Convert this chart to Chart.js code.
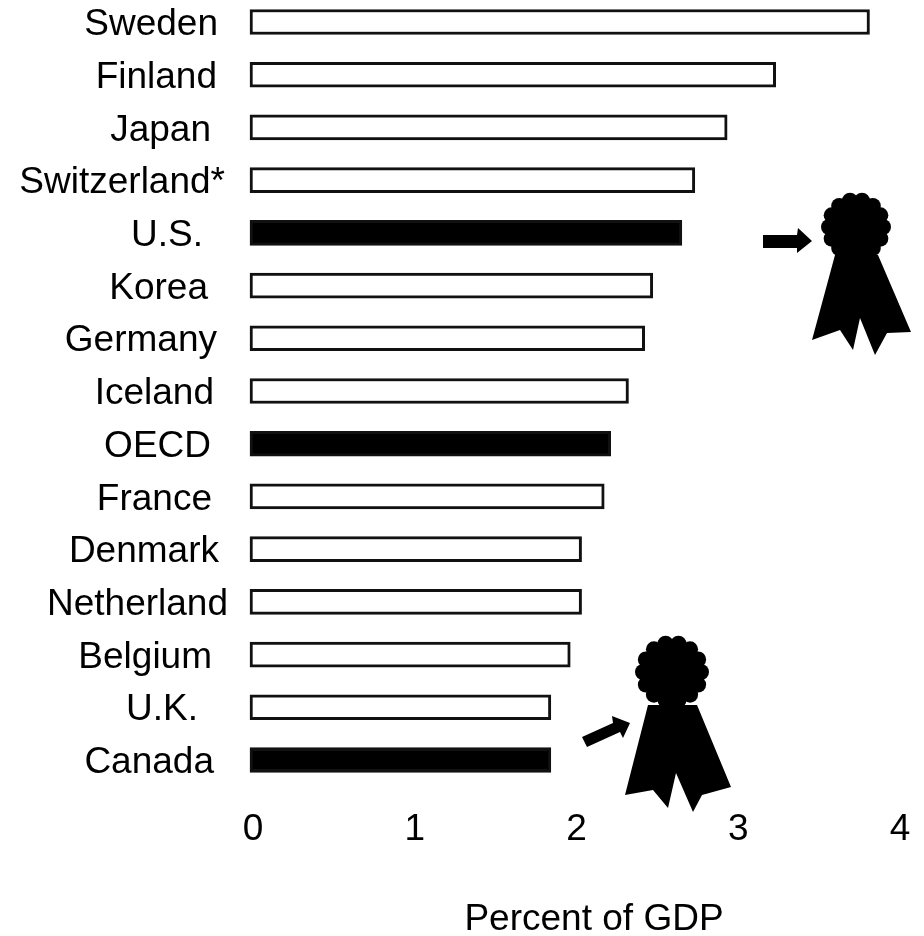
<!DOCTYPE html>
<html lang="en">
<head>
    <meta charset="UTF-8">
    <title>Percent of GDP</title>
    <script src="https://cdn.jsdelivr.net/npm/chart.js@4/dist/chart.umd.js"></script>
    <style>
        html, body { margin: 0; background: #fff; }
        canvas { display: block; }
    </style>
</head>
<body>
    <canvas id="gdpChart" width="924" height="936"></canvas>

    <script>
        const countries = ['Sweden', 'Finland', 'Japan', 'Switzerland*', 'U.S.', 'Korea', 'Germany', 'Iceland',
            'OECD', 'France', 'Denmark', 'Netherland', 'Belgium', 'U.K.', 'Canada'];
        const percentOfGdp = [3.83, 3.25, 2.95, 2.75, 2.67, 2.49, 2.44, 2.34, 2.23, 2.19, 2.05, 2.05, 1.98, 1.86, 1.86];
        const highlighted = ['U.S.', 'OECD', 'Canada'];
        const xTicks = [0, 1, 2, 3, 4];
        const axisTitle = 'Percent of GDP';

        // right edge of each country name, they don't line up exactly
        const labelRight = [218, 217, 211, 225, 203, 208, 217, 214, 211, 212, 219, 228, 212, 198, 214];

        const FONT_FAMILY = '"Liberation Sans", Arial, sans-serif';

        function drawPolygon(ctx, pts) {
            ctx.beginPath();
            pts.forEach((p, i) => i ? ctx.lineTo(p[0], p[1]) : ctx.moveTo(p[0], p[1]));
            ctx.closePath();
            ctx.fill();
        }

        // scalloped rosette plus the two ribbon tails
        function drawRibbon(ctx, cx, cy, ring, bump, tails) {
            drawPolygon(ctx, tails);
            ctx.beginPath();
            ctx.arc(cx, cy, ring, 0, Math.PI * 2);
            ctx.fill();
            for (let i = 0; i < 14; i++) {
                const a = i / 14 * Math.PI * 2;
                ctx.beginPath();
                ctx.arc(cx + Math.cos(a) * ring, cy + Math.sin(a) * ring, bump, 0, Math.PI * 2);
                ctx.fill();
            }
        }

        const countryLabels = {
            id: 'countryLabels',
            afterDraw(chart) {
                const ctx = chart.ctx;
                const y = chart.scales.y;
                ctx.save();
                ctx.font = '37px ' + FONT_FAMILY;
                ctx.fillStyle = '#000';
                ctx.textAlign = 'right';
                ctx.textBaseline = 'middle';
                countries.forEach((name, i) => {
                    ctx.fillText(name, labelRight[i], y.getPixelForValue(i) + 3);
                });
                ctx.textAlign = 'center';
                ctx.fillText(axisTitle, 594, 920);
                ctx.restore();
            }
        };

        const awards = {
            id: 'awards',
            afterDraw(chart) {
                const ctx = chart.ctx;
                ctx.save();
                ctx.fillStyle = '#000';

                // U.S. ribbon and arrow
                drawRibbon(ctx, 856, 227, 27, 8, [[835, 255], [812, 340], [840, 330], [853, 350], [860, 318],
                    [875, 355], [887, 333], [911, 332], [878, 255]]);
                drawPolygon(ctx, [[763, 235], [797, 235], [798, 228], [812, 241], [797, 253], [797, 248], [763, 248]]);

                // Canada ribbon and arrow
                drawRibbon(ctx, 672, 672, 29, 8, [[648, 705], [625, 795], [653, 790], [668, 808], [676, 773],
                    [693, 812], [702, 795], [731, 787], [697, 705]]);
                drawPolygon(ctx, [[582, 737], [613, 723], [612, 716], [630, 723], [623, 738], [620, 732], [587, 747]]);

                ctx.restore();
            }
        };

        new Chart(document.getElementById('gdpChart').getContext('2d'), {
            type: 'bar',
            data: {
                labels: countries,
                datasets: [{
                    data: percentOfGdp,
                    backgroundColor: countries.map(c => highlighted.includes(c) ? '#000' : '#fff'),
                    borderColor: '#111',
                    borderWidth: 3,
                    borderSkipped: false,
                    barThickness: 25,
                    clip: false
                }]
            },
            options: {
                indexAxis: 'y',
                responsive: false,
                animation: false,
                layout: { padding: { top: 22, right: 27, bottom: 0, left: 0 } },
                plugins: { legend: { display: false }, tooltip: { enabled: false } },
                scales: {
                    x: {
                        min: 0,
                        max: 4,
                        afterBuildTicks(scale) { scale.ticks = xTicks.map(value => ({ value })); },
                        afterFit(scale) {
                            scale.height = 936 - 760;
                            // the last tick label may hang past the plot area
                            scale.paddingLeft = 0;
                            scale.paddingRight = 0;
                        },
                        grid: { display: false },
                        border: { display: false },
                        ticks: { color: '#000', font: { family: FONT_FAMILY, size: 37 },
                            padding: 40, labelOffset: 3, maxRotation: 0 }
                    },
                    y: {
                        offset: false,
                        afterFit(scale) { scale.width = 250; },
                        grid: { display: false },
                        border: { display: false },
                        ticks: { display: false }
                    }
                }
            },
            plugins: [countryLabels, awards]
        });
    </script>
</body>
</html>
